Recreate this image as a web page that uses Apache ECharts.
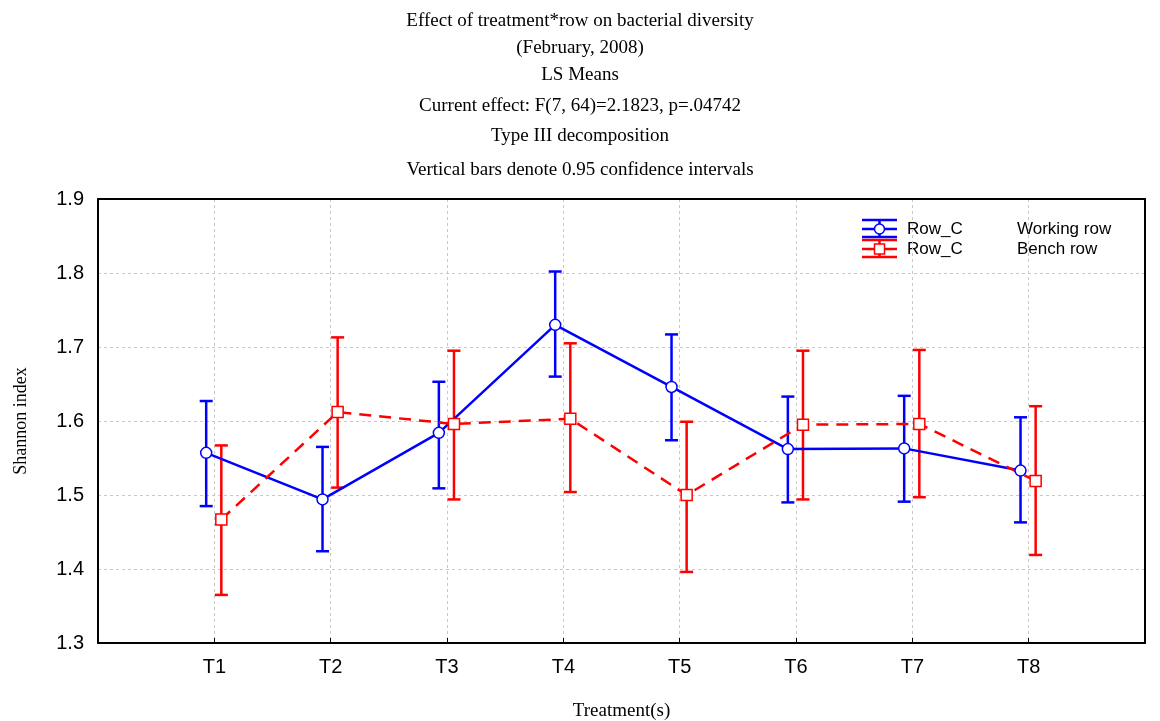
<!DOCTYPE html>
<html>
<head>
<meta charset="utf-8">
<script src="https://cdn.jsdelivr.net/npm/echarts@6/dist/echarts.min.js"></script>
<style>
  html, body { margin: 0; padding: 0; background: #fff; }
  #chart { width: 1160px; height: 721px; }
</style>
</head>
<body>
<div id="chart"></div>
<script>
const treatments = ['T1', 'T2', 'T3', 'T4', 'T5', 'T6', 'T7', 'T8'];
const workingMean = [1.557, 1.494, 1.584, 1.730, 1.646, 1.562, 1.563, 1.533];
const workingLow = [1.485, 1.424, 1.509, 1.660, 1.574, 1.490, 1.491, 1.463];
const workingHigh = [1.627, 1.565, 1.653, 1.802, 1.717, 1.633, 1.634, 1.605];
const benchMean = [1.467, 1.612, 1.596, 1.603, 1.500, 1.595, 1.596, 1.519];
const benchLow = [1.365, 1.510, 1.494, 1.504, 1.396, 1.494, 1.497, 1.419];
const benchHigh = [1.567, 1.713, 1.695, 1.705, 1.599, 1.695, 1.696, 1.620];
const titleLines = [
  'Effect of treatment*row on bacterial diversity',
  '(February, 2008)',
  'LS Means',
  'Current effect: F(7, 64)=2.1823, p=.04742',
  'Type III decomposition',
  'Vertical bars denote 0.95 confidence intervals'
];

const BLUE = '#0000ff';
const RED = '#ff0000';
const serif = '"Liberation Serif", "DejaVu Serif", serif';
const sans = '"Liberation Sans", Arial, sans-serif';

// small horizontal shift so the two groups don't overlap
const workingShift = -0.07;
const benchShift = 0.06;

function points(mean, shift) {
  return mean.map((v, i) => [i + 1 + shift, v]);
}
function bars(low, high, shift) {
  return low.map((v, i) => [i + 1 + shift, v, high[i]]);
}

function errorBar(color) {
  return function (params, api) {
    const x = api.value(0);
    const top = api.coord([x, api.value(2)]);
    const bot = api.coord([x, api.value(1)]);
    const w = 6.5;
    const style = { stroke: color, lineWidth: 2.5 };
    return {
      type: 'group',
      children: [
        { type: 'line', shape: { x1: top[0], y1: top[1], x2: bot[0], y2: bot[1] }, style },
        { type: 'line', shape: { x1: top[0] - w, y1: top[1], x2: top[0] + w, y2: top[1] }, style },
        { type: 'line', shape: { x1: bot[0] - w, y1: bot[1], x2: bot[0] + w, y2: bot[1] }, style }
      ]
    };
  };
}

const titleTops = [7, 34, 61, 92, 122, 156];
const gridDash = { color: '#c8c8c8', type: [3, 3] };

const chart = echarts.init(document.getElementById('chart'));
chart.setOption({
  animation: false,
  backgroundColor: '#fff',
  title: titleLines.map((t, i) => ({
    text: t,
    left: 'center',
    top: titleTops[i],
    textStyle: { fontFamily: serif, fontWeight: 'normal', fontSize: 19, color: '#000' }
  })),
  grid: {
    left: 98, right: 15, top: 199, bottom: 78,
    outerBoundsMode: 'none',
    containLabel: false
  },
  xAxis: [
    {
      type: 'value',
      min: 0, max: 9, interval: 1,
      name: 'Treatment(s)',
      nameLocation: 'center',
      nameGap: 59,
      nameTextStyle: { fontFamily: serif, fontSize: 19, color: '#000' },
      axisLine: { onZero: false, lineStyle: { color: '#000', width: 2 } },
      axisTick: { inside: true, length: 5, lineStyle: { color: '#000' } },
      axisLabel: {
        fontFamily: sans, fontSize: 20, color: '#000', margin: 14,
        formatter: v => (v >= 1 && v <= 8 ? treatments[v - 1] : '')
      },
      splitLine: { show: true, lineStyle: gridDash }
    },
    {
      type: 'value', position: 'top',
      min: 0, max: 9, interval: 1,
      axisLine: { show: true, onZero: false, lineStyle: { color: '#000', width: 2 } },
      axisTick: { show: false }, axisLabel: { show: false }, splitLine: { show: false }
    }
  ],
  yAxis: [
    {
      type: 'value',
      min: 1.3, max: 1.9, interval: 0.1,
      name: 'Shannon index',
      nameLocation: 'center',
      nameGap: 68,
      nameTextStyle: { fontFamily: serif, fontSize: 18, color: '#000' },
      axisLine: { show: true, onZero: false, lineStyle: { color: '#000', width: 2 } },
      axisTick: { show: false },
      axisLabel: {
        fontFamily: sans, fontSize: 20, color: '#000', margin: 14,
        formatter: v => v.toFixed(1)
      },
      splitLine: { show: true, lineStyle: gridDash }
    },
    {
      type: 'value', position: 'right',
      min: 1.3, max: 1.9, interval: 0.1,
      axisLine: { show: true, onZero: false, lineStyle: { color: '#000', width: 2 } },
      axisTick: { show: false }, axisLabel: { show: false }, splitLine: { show: false }
    }
  ],
  series: [
    {
      name: 'Working row bars',
      type: 'custom',
      renderItem: errorBar(BLUE),
      data: bars(workingLow, workingHigh, workingShift),
      encode: { x: 0, y: [1, 2] },
      z: 2
    },
    {
      name: 'Bench row bars',
      type: 'custom',
      renderItem: errorBar(RED),
      data: bars(benchLow, benchHigh, benchShift),
      encode: { x: 0, y: [1, 2] },
      z: 2
    },
    {
      name: 'Working row',
      type: 'line',
      data: points(workingMean, workingShift),
      symbol: 'circle',
      symbolSize: 11,
      lineStyle: { color: BLUE, width: 2.5 },
      itemStyle: { color: '#fff', borderColor: BLUE, borderWidth: 1.5 },
      z: 3
    },
    {
      name: 'Bench row',
      type: 'line',
      data: points(benchMean, benchShift),
      symbol: 'rect',
      symbolSize: 11,
      lineStyle: { color: RED, width: 2.5, type: [12, 8] },
      itemStyle: { color: '#fff', borderColor: RED, borderWidth: 1.5 },
      z: 3
    }
  ],
  graphic: [
    legendRow(229, BLUE, 'circle', 'Working row'),
    legendRow(249, RED, 'rect', 'Bench row')
  ]
});

function legendRow(y, color, shape, label) {
  const st = { stroke: color, lineWidth: 2.5 };
  const x0 = 862, x1 = 897, cx = 879.5;
  const marker = shape === 'circle'
    ? { type: 'circle', shape: { cx, cy: y, r: 5 }, style: { fill: '#fff', stroke: color, lineWidth: 1.5 } }
    : { type: 'rect', shape: { x: cx - 5, y: y - 5, width: 10, height: 10 }, style: { fill: '#fff', stroke: color, lineWidth: 1.5 } };
  return {
    type: 'group',
    children: [
      { type: 'line', shape: { x1: x0, y1: y - 9, x2: x1, y2: y - 9 }, style: st },
      { type: 'line', shape: { x1: x0, y1: y + 8, x2: x1, y2: y + 8 }, style: st },
      { type: 'line', shape: { x1: x0, y1: y, x2: x1, y2: y }, style: st },
      { type: 'line', shape: { x1: cx, y1: y - 9, x2: cx, y2: y + 8 }, style: st },
      marker,
      { type: 'text', x: 907, y: y, style: { text: 'Row_C', font: '17px ' + sans, fill: '#000', textVerticalAlign: 'middle' } },
      { type: 'text', x: 1017, y: y, style: { text: label, font: '17px ' + sans, fill: '#000', textVerticalAlign: 'middle' } }
    ]
  };
}
</script>
</body>
</html>
